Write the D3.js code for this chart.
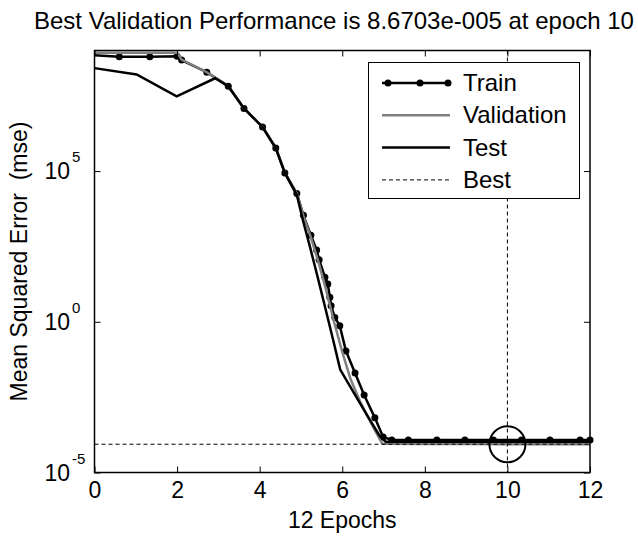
<html>
<head>
    <script src="https://d3js.org/d3.v7.min.js"></script>
    <style>
        body { margin: 0; background: white; }
        text { font-family: "Liberation Sans", Arial, sans-serif; fill: black; }
    </style>
</head>
<body>
<script>
    // values (mse)
    var trainEpochs = [0, 0.6, 1.34, 2.0, 2.11, 2.72, 3.24, 3.62, 4.07, 4.39, 4.61, 4.9, 5.06, 5.24, 5.38, 5.44, 5.58, 5.65, 5.7, 5.73, 5.82, 5.94, 6.09, 6.31, 6.53, 6.79, 6.99, 7.2, 7.6, 8.29, 8.97, 9.66, 10.34, 11.03, 11.76, 12];
    var trainMse = [7.0e8, 6.2e8, 6.2e8, 6.4e8, 4.8e8, 1.9e8, 6.5e7, 1.2e7, 2.9e6, 5.8e5, 8.7e4, 1.8e4, 3.4e3, 740, 240, 115, 30, 18, 6.5, 3.4, 1.4, 0.74, 0.107, 0.020, 3.7e-3, 6.5e-4, 1.5e-4, 1.2e-4, 1.2e-4, 1.2e-4, 1.2e-4, 1.2e-4, 1.2e-4, 1.2e-4, 1.2e-4, 1.2e-4];

    var valEpochs = [0, 2.0, 2.11, 2.72, 3.24, 3.62, 4.07, 4.39, 4.61, 4.9, 5.06, 5.24, 5.44, 5.62, 5.8, 6.0, 6.2, 6.45, 6.75, 6.97, 8, 9, 10, 11, 12];
    var valMse = [8.5e8, 8.5e8, 5.0e8, 1.9e8, 6.5e7, 1.2e7, 2.9e6, 5.8e5, 8.7e4, 1.8e4, 3.2e3, 630, 80, 10, 1, 0.1, 0.0126, 2.0e-3, 3.2e-4, 9.0e-5, 8.8e-5, 8.75e-5, 8.6703e-5, 8.7e-5, 8.7e-5];

    var testEpochs = [0, 1.02, 1.99, 2.92, 3.24, 3.62, 4.07, 4.39, 4.61, 4.9, 5.06, 5.22, 5.4, 5.6, 5.78, 5.95, 6.3, 6.6, 6.91, 7.05, 8, 9, 10, 11, 12];
    var testMse = [2.6e8, 1.6e8, 3.0e7, 1.2e8, 6.5e7, 1.2e7, 2.9e6, 5.8e5, 8.7e4, 1.6e4, 2.0e3, 300, 32, 2.5, 0.25, 0.026, 4.0e-3, 8.0e-4, 1.6e-4, 1.05e-4, 1.05e-4, 1.05e-4, 1.05e-4, 1.05e-4, 1.05e-4];

    var bestEpoch = 10, bestMse = 8.6703e-5;
    var xTicks = [0, 2, 4, 6, 8, 10, 12];
    var yTicks = [1e-5, 1e0, 1e5];
    var yTickExp = ["-5", "0", "5"];
    var legendNames = ["Train", "Validation", "Test", "Best"];

    var width = 638, height = 536;
    var pLeft = 94.5, pRight = 590, pTop = 50.5, pBottom = 472.5;

    var svg = d3.select("body").append("svg").attr("width", width).attr("height", height)
        .style("background", "white");

    var x = d3.scaleLinear().domain([0, 12]).range([pLeft, pRight]);
    var y = d3.scaleLog().domain([1e-5, 1e9]).range([pBottom, pTop]);

    var line = d3.line().x(function(d) { return x(d[0]); }).y(function(d) { return y(d[1]); });
    function pairs(a, b) { return a.map(function(v, i) { return [v, b[i]]; }); }

    var plot = svg.append("g");

    // series
    plot.append("path").datum(pairs(trainEpochs, trainMse)).attr("d", line)
        .attr("fill", "none").attr("stroke", "black").attr("stroke-width", 2.5);
    plot.selectAll(".tdot").data(pairs(trainEpochs, trainMse).slice(1)).enter().append("circle")
        .attr("cx", function(d) { return x(d[0]); }).attr("cy", function(d) { return y(d[1]); })
        .attr("r", 3.5).attr("fill", "black");
    plot.append("path").datum(pairs(valEpochs, valMse)).attr("d", line)
        .attr("fill", "none").attr("stroke", "#808080").attr("stroke-width", 2.5);
    plot.append("path").datum(pairs(testEpochs, testMse)).attr("d", line)
        .attr("fill", "none").attr("stroke", "black").attr("stroke-width", 2.5);

    // best lines and circle
    plot.append("line").attr("x1", pLeft).attr("x2", pRight).attr("y1", y(bestMse)).attr("y2", y(bestMse))
        .attr("stroke", "black").attr("stroke-width", 1).attr("stroke-dasharray", "4,3");
    plot.append("line").attr("x1", x(bestEpoch)).attr("x2", x(bestEpoch)).attr("y1", pTop).attr("y2", pBottom)
        .attr("stroke", "black").attr("stroke-width", 1).attr("stroke-dasharray", "4,3");
    plot.append("circle").attr("cx", x(bestEpoch)).attr("cy", y(bestMse)).attr("r", 18)
        .attr("fill", "none").attr("stroke", "black").attr("stroke-width", 2);

    // axes box
    svg.append("rect").attr("x", pLeft).attr("y", pTop).attr("width", pRight - pLeft).attr("height", pBottom - pTop)
        .attr("fill", "none").attr("stroke", "black").attr("stroke-width", 1.5);

    svg.append("g").attr("transform", "translate(0," + pBottom + ")")
        .call(d3.axisBottom(x).tickValues(xTicks).tickSize(-6).tickPadding(9).tickFormat(d3.format("d")))
        .call(function(g) {
            g.select(".domain").remove();
            g.selectAll("text").style("font-size", "23px").attr("fill", "black");
        });
    svg.append("g").attr("transform", "translate(0," + pTop + ")")
        .call(d3.axisTop(x).tickValues(xTicks).tickSize(-6).tickFormat(""))
        .call(function(g) { g.select(".domain").remove(); });
    svg.append("g").attr("transform", "translate(" + pLeft + ",0)")
        .call(d3.axisLeft(y).tickValues(yTicks).tickSize(-6).tickFormat(""))
        .call(function(g) { g.select(".domain").remove(); });
    svg.append("g").attr("transform", "translate(" + pRight + ",0)")
        .call(d3.axisRight(y).tickValues(yTicks).tickSize(-6).tickFormat(""))
        .call(function(g) { g.select(".domain").remove(); });

    // y tick labels with exponent
    var yl = svg.append("g").selectAll("g").data(yTicks).enter().append("g")
        .attr("transform", function(d) { return "translate(0," + y(d) + ")"; });
    yl.append("text").attr("x", 70).attr("y", 8).attr("text-anchor", "end")
        .style("font-size", "23px").text("10");
    yl.append("text").attr("x", 72).attr("y", -9)
        .style("font-size", "15px").text(function(d, i) { return yTickExp[i]; });

    // title and axis labels
    svg.append("text").attr("x", 334).attr("y", 29).attr("text-anchor", "middle")
        .style("font-size", "24px").text("Best Validation Performance is 8.6703e-005 at epoch 10");
    svg.append("text").attr("x", (pLeft + pRight) / 2).attr("y", 528).attr("text-anchor", "middle")
        .style("font-size", "23px").text("12 Epochs");
    svg.append("text").attr("transform", "translate(27," + (pTop + pBottom) / 2 + ") rotate(-90)")
        .attr("text-anchor", "middle").style("font-size", "23px").style("white-space", "pre")
        .text("Mean Squared Error  (mse)");

    // legend
    var lg = svg.append("g");
    lg.append("rect").attr("x", 368.5).attr("y", 62.5).attr("width", 211).attr("height", 136)
        .attr("fill", "white").attr("stroke", "black").attr("stroke-width", 1);
    var item = lg.selectAll(".item").data(legendNames).enter().append("g")
        .attr("transform", function(d, i) { return "translate(0," + (83 + i * 32.3) + ")"; });
    item.append("line").attr("x1", 382).attr("x2", 450).attr("y1", 0).attr("y2", 0)
        .attr("stroke", function(d) { return d == "Validation" ? "#808080" : "black"; })
        .attr("stroke-width", function(d) { return d == "Best" ? 1 : 2.5; })
        .attr("stroke-dasharray", function(d) { return d == "Best" ? "4,3" : null; });
    item.filter(function(d) { return d == "Train"; }).selectAll("circle").data([388, 420, 448]).enter()
        .append("circle").attr("cx", function(d) { return d; }).attr("cy", 0).attr("r", 3.5).attr("fill", "black");
    item.append("text").attr("x", 463).attr("y", 8).style("font-size", "24px").text(function(d) { return d; });
</script>
</body>
</html>
